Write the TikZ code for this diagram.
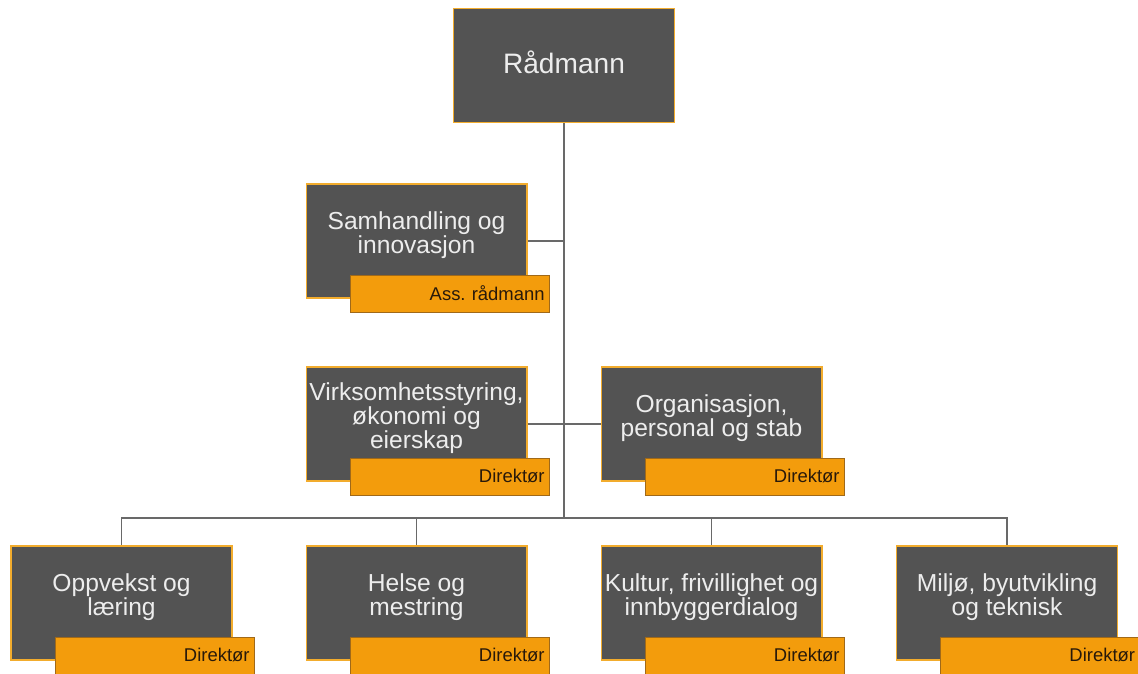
\documentclass[tikz,border=0pt]{standalone}
\usepackage{fontspec}
\setmainfont{Liberation Sans}

\definecolor{boxgray}{RGB}{83,83,83}
\definecolor{boxrim}{RGB}{242,172,45}
\definecolor{rolefill}{RGB}{243,156,12}
\definecolor{rolerim}{RGB}{160,105,25}
\definecolor{linegray}{RGB}{105,105,105}
\definecolor{roletext}{RGB}{40,25,10}

\begin{document}
\begin{tikzpicture}[x=0.02cm, y=-0.02cm,
	unit/.style={rectangle, fill=boxgray, draw=boxrim, line width=0.6pt, minimum width=4.42cm, minimum height=2.28cm, inner sep=0pt},
	unittext/.style={text=white!93!black, font=\fontsize{14}{13.8}\selectfont, align=center, inner sep=0pt},
	role/.style={rectangle, fill=rolefill, draw=rolerim, line width=0.5pt, minimum width=3.98cm, minimum height=0.74cm, anchor=north east, inner sep=0pt, text=roletext, font=\fontsize{10.5}{12}\selectfont, align=right, text width=3.8cm},
	link/.style={draw=linegray, line width=0.6pt}]
				\clip (0,0) rectangle (1138,673);
				
				\node[unit] (rad) at (564,65.5){};
				\node[unittext, font=\fontsize{16}{18}\selectfont] (radtext) at (564,62){Rådmann};
				
				\node[unit] (sam) at (416.5,241){};
				\node[unittext] (samtext) at (416.5,235){Samhandling og\\innovasjon};
				\node[role] (samrole) at ([xshift=0.44cm, yshift=0.48cm]sam.south east){Ass.\ rådmann};
				
				\node[unit] (virk) at (416.5,424){};
				\node[unittext] (virktext) at (416.5,418){Virksomhetsstyring,\\økonomi og\\eierskap};
				\node[role] (virkrole) at ([xshift=0.44cm, yshift=0.48cm]virk.south east){Direktør};
				
				\node[unit] (org) at (711.5,424){};
				\node[unittext] (orgtext) at (711.5,418){Organisasjon,\\personal og stab};
				\node[role] (orgrole) at ([xshift=0.44cm, yshift=0.48cm]org.south east){Direktør};
				
				\node[unit] (opp) at (121.5,603){};
				\node[unittext] (opptext) at (121.5,597){Oppvekst og\\læring};
				\node[role] (opprole) at ([xshift=0.44cm, yshift=0.48cm]opp.south east){Direktør};
				
				\node[unit] (hel) at (416.5,603){};
				\node[unittext] (heltext) at (416.5,597){Helse og\\mestring};
				\node[role] (helrole) at ([xshift=0.44cm, yshift=0.48cm]hel.south east){Direktør};
				
				\node[unit] (kul) at (711.5,603){};
				\node[unittext] (kultext) at (711.5,597){Kultur, frivillighet og\\innbyggerdialog};
				\node[role] (kulrole) at ([xshift=0.44cm, yshift=0.48cm]kul.south east){Direktør};
				
				\node[unit] (mil) at (1007,603){};
				\node[unittext] (miltext) at (1007,597){Miljø, byutvikling\\og teknisk};
				\node[role] (milrole) at ([xshift=0.44cm, yshift=0.48cm]mil.south east){Direktør};
				
				\coordinate (bus) at (564,518);
				
				\path[link] (rad.south) -- (bus);
				\path[link] (sam.east) -- (sam.east -| bus);
				\path[link] (virk.east) -- (org.west);
				\path[link] (bus) -| (opp.north);
				\path[link] (bus) -| (hel.north);
				\path[link] (bus) -| (kul.north);
				\path[link] (bus) -| (mil.north);
				\end{tikzpicture}
\end{document}
